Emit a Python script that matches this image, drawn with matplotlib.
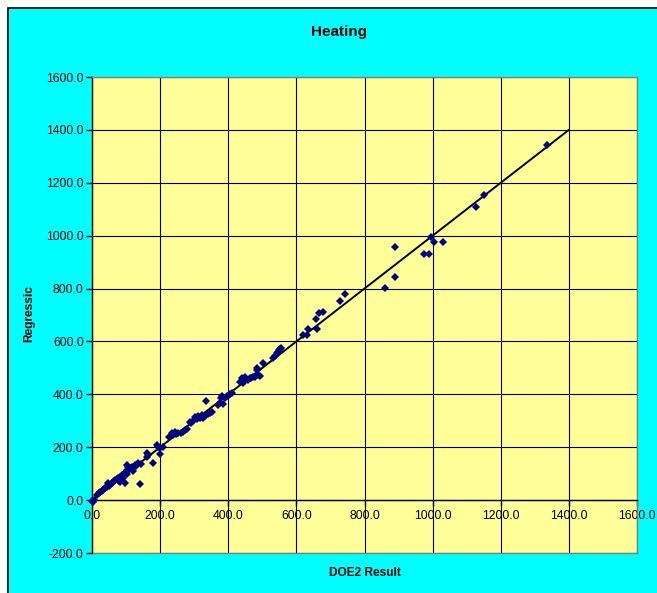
import matplotlib
matplotlib.use("Agg")
import matplotlib.pyplot as plt
from matplotlib.patches import Rectangle
from matplotlib.ticker import FormatStrFormatter

plt.rcParams['font.family'] = ['Liberation Sans', 'DejaVu Sans']

title = "Heating"
x_label = "DOE2 Result"
y_label = "Regressic"

doe2 = [0, 3, 5, 15, 20, 23, 28, 33, 38, 43, 45, 48, 50, 53, 58, 62, 65, 67, 72, 75,
        78, 82, 82, 85, 87, 92, 95, 97, 97, 100, 102, 104, 106, 102, 108, 111, 116, 120,
        126, 130, 136, 141, 145, 160, 160, 165, 180, 200,
        190, 195, 199, 209,
        225, 234, 238, 243, 248, 253, 260, 268, 273, 280, 287, 292, 297, 302, 307, 312,
        317, 322, 326, 331, 336, 341, 346, 351, 370, 375, 378, 382, 386, 390, 395, 400,
        405, 410,
        434, 439, 444, 449, 453, 458, 463, 468, 473, 478, 483, 488, 493, 485, 502, 532,
        537, 542, 546, 549, 553, 556,
        618, 631, 634, 657, 662, 665, 677, 727, 743, 861, 889, 889, 974, 988, 994, 1003,
        1030, 1126, 1150, 1337]
regression = [-5, -8, 0, 20, 28, 31, 35, 40, 44, 50, 55, 63, 52, 59, 66, 69, 72, 76, 78, 85,
              72, 88, 69, 80, 95, 82, 100, 101, 65, 108, 114, 98, 126, 132, 118, 120, 126, 110,
              132, 128, 139, 61, 135, 177, 164, 170, 139, 175,
              208, 200, 197, 202,
              240, 252, 245, 258, 250, 252, 255, 258, 265, 270, 296, 290, 300, 315, 305, 318,
              310, 322, 309, 318, 376, 325, 328, 334, 360, 366, 385, 392, 365, 388, 395, 392,
              400, 405,
              448, 460, 442, 467, 458, 454, 462, 460, 465, 467, 492, 473, 469, 498, 517, 536,
              545, 555, 561, 566, 570, 574,
              624, 624, 647, 685, 646, 709, 712, 754, 778, 802, 845, 958, 931, 931, 996, 976,
              976, 1110, 1154, 1343]

line_x = [0, 1400]
line_y = [0, 1400]

x_ticks = [0, 200, 400, 600, 800, 1000, 1200, 1400, 1600]
y_ticks = [-200, 0, 200, 400, 600, 800, 1000, 1200, 1400, 1600]

W, H = 657, 593
fig = plt.figure(figsize=(W / 100, H / 100), dpi=100)
fig.patch.set_facecolor('white')
bg = Rectangle((7.5 / W, -0.2), 1.2, (H - 7.5) / H + 0.2, transform=fig.transFigure,
               facecolor='#00FFFF', edgecolor='black', linewidth=1.2, zorder=-10)
fig.patches.append(bg)

ax = fig.add_axes([92 / W, (H - 553) / H, (637 - 92) / W, (553 - 77) / H])
ax.set_zorder(1)
ax.set_facecolor('#FFFF99')
ax.set_xlim(0, 1600)
ax.set_ylim(-200, 1600)
ax.set_xticks(x_ticks)
ax.set_yticks(y_ticks)
ax.xaxis.set_major_formatter(FormatStrFormatter('%.1f'))
ax.yaxis.set_major_formatter(FormatStrFormatter('%.1f'))
ax.grid(True, color='black', linewidth=0.8)
ax.set_axisbelow(True)

for s in ['top', 'right']:
    ax.spines[s].set_color('#808080')
    ax.spines[s].set_linewidth(1.0)
ax.spines['left'].set_color('black')
ax.spines['left'].set_linewidth(1.0)
ax.spines['bottom'].set_position(('data', 0))
ax.spines['bottom'].set_color('black')
ax.spines['bottom'].set_linewidth(1.0)
ax.plot([0, 1], [0, 0], transform=ax.transAxes, color='#808080', lw=1.0, clip_on=False)

ax.tick_params(axis='both', direction='out', length=4, width=1, color='black',
               labelsize=8.7, pad=2)
ax.tick_params(axis='x', pad=3)

ax.plot(line_x, line_y, color='black', lw=1.4, zorder=3)
ax.plot(doe2, regression, linestyle='none', marker='D', markersize=4.3,
        color='#000080', markeredgewidth=0, zorder=4, clip_on=False)

fig.text(339 / W, 1 - 32 / H, title, ha='center', va='center', fontsize=11, fontweight='bold')
fig.text(364.5 / W, 1 - 573 / H, x_label, ha='center', va='center', fontsize=8.6, fontweight='bold')
fig.text(29.5 / W, 1 - 314 / H, y_label, ha='center', va='center', rotation=90,
         fontsize=8.6, fontweight='bold')

fig.savefig('out.png', dpi=100, facecolor=fig.get_facecolor())
